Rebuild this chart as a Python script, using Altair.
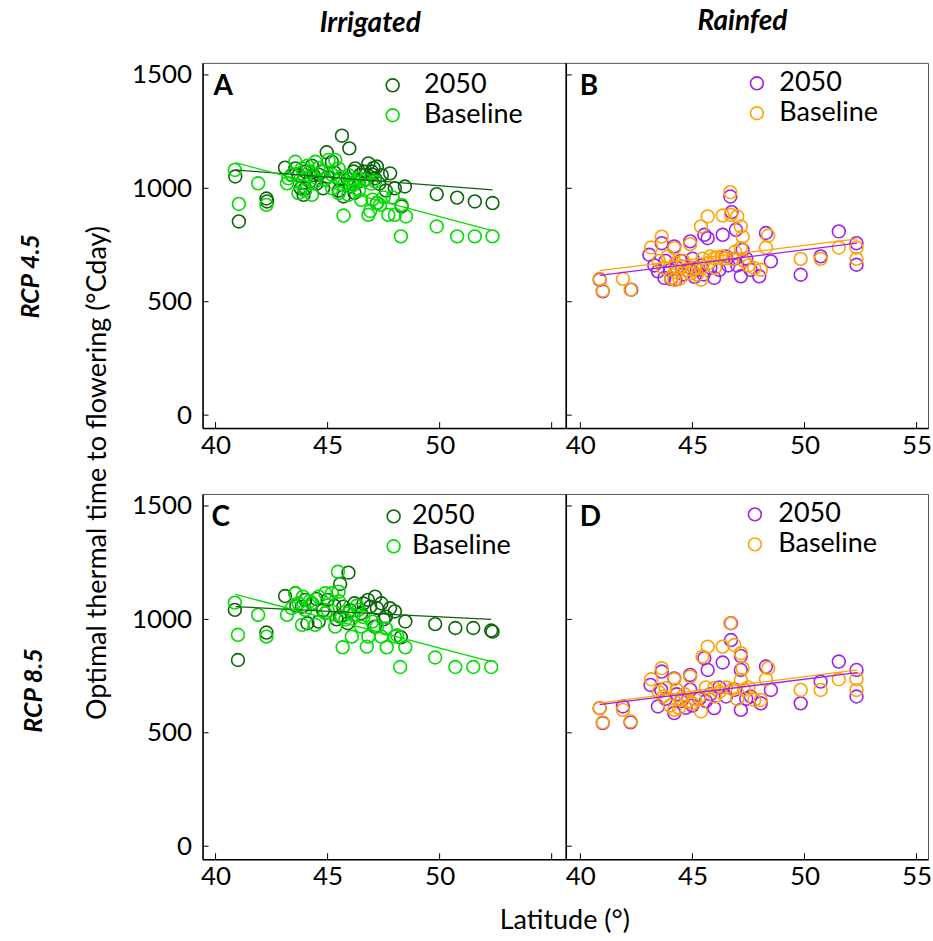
import altair as alt
import pandas as pd

# ---------------- data ----------------
SERIES = ["2050", "Baseline"]

# Panel A : RCP 4.5, irrigated
A_2050_lat = [40.88, 41.04, 42.30, 42.27, 43.10, 43.40, 43.56, 43.70, 43.93, 44.00, 44.00, 44.37, 44.74,
              44.96, 45.19, 45.50, 45.64, 45.71, 45.97, 46.16, 46.23, 46.40, 46.60, 46.82, 46.97, 47.12,
              47.20, 47.20, 47.42, 47.79, 48.00, 48.30, 48.45, 49.87, 50.78, 51.57, 52.36, 44.50, 45.00,
              46.00, 47.00, 44.20, 43.80, 44.30, 44.60, 45.30, 45.90, 46.45, 46.70, 47.05, 47.30, 47.60,
              44.80, 45.50, 46.20]
A_2050_val = [1052, 854, 942, 955, 1091, 1058, 1088, 1058, 971, 1074, 1000, 1058, 1074,
              1159, 1117, 1040, 1232, 964, 1176, 1074, 1088, 1030, 1074, 1110, 1074, 1044,
              1096, 935, 1058, 1066, 1000, 920, 1008, 974, 959, 942, 935, 1020, 1050,
              1010, 1060, 1030, 1000, 1100, 1060, 1070, 1040, 1060, 1040, 1090, 1020, 990,
              1000, 990, 980]
A_base_lat = [40.86, 41.04, 41.90, 42.27, 43.19, 43.25, 43.56, 43.70, 43.86, 44.00, 44.20, 44.30, 44.45,
              44.45, 44.82, 45.04, 45.34, 45.49, 45.50, 45.71, 45.71, 45.93, 45.93, 46.08, 46.16, 46.23,
              46.38, 46.50, 46.67, 46.82, 47.12, 47.20, 47.34, 47.71, 48.00, 48.30, 48.27, 48.50, 49.87,
              50.78, 51.57, 52.36, 44.00, 45.20, 46.90, 43.40, 43.90, 44.10, 44.60, 44.90, 45.20, 45.60,
              46.00, 46.40, 46.95, 47.50, 47.00, 47.90]
A_base_val = [1081, 931, 1022, 927, 1022, 1044, 1117, 979, 1088, 1044, 1074, 971, 1117,
              1030, 1074, 1125, 1125, 1088, 979, 880, 1015, 1058, 971, 1022, 1015, 1030,
              1044, 949, 1036, 883, 1030, 935, 927, 883, 883, 927, 788, 876, 832,
              788, 788, 788, 990, 1060, 900, 1060, 1010, 1100, 1090, 1040, 1000, 1050,
              1040, 990, 1020, 960, 950, 960]
A_fit_lat = [40.89, 52.36]
A_fit_2050 = [1081, 993]
A_fit_base = [1113, 813]

# Panel B : RCP 4.5, rainfed
B_2050_lat = [40.86, 41.00, 42.27, 43.08, 43.63, 44.19, 43.46, 43.75, 44.24, 44.90, 45.53, 45.68, 46.35,
              46.69, 46.75, 46.94, 47.24, 45.97, 47.16, 47.98, 48.50, 48.28, 49.83, 50.72, 51.53, 52.32,
              52.32, 44.50, 44.90, 45.50, 46.60, 46.90, 44.00, 45.20, 47.60, 43.30, 43.80, 44.30, 44.60,
              45.00, 45.40, 45.80, 46.20, 46.50, 47.00, 47.40, 44.05, 45.10]
B_2050_val = [597, 546, 553, 707, 758, 744, 634, 605, 597, 766, 795, 780, 795,
              964, 895, 817, 729, 605, 612, 612, 678, 803, 619, 700, 810, 758,
              663, 680, 650, 620, 660, 690, 640, 640, 640, 660, 680, 650, 620,
              690, 660, 650, 640, 700, 660, 690, 600, 610]
B_base_lat = [40.86, 41.00, 41.90, 42.24, 43.16, 43.63, 43.90, 44.19, 44.05, 44.42, 44.90, 45.38, 45.68,
              46.35, 46.69, 46.72, 47.00, 47.16, 47.24, 47.16, 45.38, 45.97, 46.10, 46.79, 47.76, 48.05,
              48.28, 48.38, 49.83, 50.72, 51.53, 52.32, 52.32, 44.70, 44.90, 45.10, 44.19, 45.38, 43.50,
              44.50, 45.70, 46.30, 47.50, 43.70, 44.25, 44.60, 45.00, 45.45, 45.80, 46.45, 46.90, 47.30,
              44.30, 45.20, 46.00]
B_base_val = [601, 549, 601, 553, 739, 787, 700, 736, 605, 601, 754, 832, 876,
              880, 983, 883, 876, 832, 787, 736, 648, 692, 695, 689, 648, 641,
              739, 792, 689, 689, 739, 739, 689, 640, 625, 650, 597, 597, 680,
              655, 670, 700, 660, 650, 670, 680, 640, 690, 700, 690, 720, 680,
              630, 620, 650]
B_fit_lat = [40.86, 52.35]
B_fit_2050 = [616, 758]
B_fit_base = [637, 777]

# Panel C : RCP 8.5, irrigated
C_2050_lat = [40.86, 41.00, 42.27, 45.93, 45.56, 43.10, 43.56, 47.12, 47.79, 48.00, 48.47, 49.80, 50.70,
              51.50, 52.30, 48.27, 46.80, 46.90, 47.40, 46.20, 45.56, 44.00, 43.86, 44.30, 45.00, 45.70,
              47.10, 45.90, 44.10, 46.50, 47.60, 52.36, 44.50, 44.80, 45.30, 46.00, 46.60, 47.20, 47.50,
              44.60, 45.40, 43.60]
C_2050_val = [1042, 821, 942, 1206, 1156, 1103, 1115, 1100, 1049, 1035, 991, 979, 962,
              962, 951, 921, 1086, 1056, 1071, 1071, 1012, 1086, 1056, 1071, 1086, 1056,
              968, 983, 983, 1027, 1012, 946, 1090, 1040, 1060, 1040, 1070, 1050, 1000,
              990, 1000, 1060]
C_base_lat = [40.86, 41.00, 41.90, 42.27, 45.46, 45.67, 46.75, 47.64, 48.47, 48.24, 49.80, 50.70, 51.50,
              52.30, 43.19, 43.56, 43.70, 44.00, 43.86, 44.45, 44.30, 44.89, 45.19, 45.49, 44.89, 45.34,
              45.64, 45.93, 46.16, 46.38, 46.08, 46.82, 47.20, 47.40, 48.00, 46.50, 43.40, 43.90, 44.20,
              44.60, 45.00, 45.50, 45.80, 46.30, 46.60, 47.00, 47.60, 48.10]
C_base_val = [1074, 932, 1020, 924, 1210, 877, 880, 877, 877, 790, 832, 790, 790,
              790, 1020, 1115, 1071, 1042, 976, 976, 1071, 1115, 1115, 1122, 1027, 968,
              1012, 1027, 1020, 1042, 924, 924, 968, 924, 924, 968, 1050, 1100, 1080,
              1100, 1040, 1080, 1000, 1060, 1010, 990, 960, 930]
C_fit_lat = [40.89, 52.30]
C_fit_2050 = [1056, 1000]
C_fit_base = [1110, 814]

# Panel D : RCP 8.5, rainfed
D_2050_lat = [40.86, 41.00, 41.90, 42.24, 43.13, 43.63, 44.19, 43.46, 44.19, 44.90, 45.53, 45.68, 46.35,
              46.72, 46.72, 47.16, 47.16, 47.16, 45.97, 48.05, 48.50, 48.28, 49.83, 50.72, 51.53, 52.32,
              52.32, 44.50, 45.00, 45.60, 46.50, 43.80, 44.70, 47.60, 44.30, 44.90, 45.30, 45.80, 46.20,
              46.90, 47.40, 43.60]
D_2050_val = [609, 543, 616, 546, 711, 770, 740, 616, 587, 755, 829, 777, 810,
              909, 983, 839, 777, 601, 609, 630, 689, 792, 630, 726, 814, 777,
              660, 640, 620, 640, 660, 650, 610, 660, 670, 690, 650, 670, 700,
              690, 650, 690]
D_base_lat = [40.86, 41.00, 41.90, 42.24, 43.16, 43.63, 43.80, 44.19, 44.19, 44.90, 45.68, 45.45, 46.35,
              46.69, 46.87, 47.16, 47.24, 47.16, 48.28, 48.38, 49.83, 50.72, 51.53, 52.32, 52.32, 45.97,
              46.79, 47.76, 48.05, 45.38, 44.50, 44.80, 45.10, 45.30, 43.50, 44.00, 46.20, 47.50, 47.00,
              43.70, 44.30, 44.65, 45.00, 45.60, 46.00, 46.50, 47.30, 44.40]
D_base_val = [609, 546, 601, 550, 736, 785, 697, 736, 601, 748, 880, 836, 880,
              983, 887, 851, 785, 733, 736, 785, 689, 689, 736, 736, 689, 697,
              692, 645, 645, 594, 650, 640, 650, 660, 680, 620, 680, 700, 650,
              660, 690, 670, 630, 700, 660, 700, 690, 610]
D_fit_lat = [40.86, 52.35]
D_fit_2050 = [624, 765]
D_fit_base = [631, 777]

Y_TICKS = [0, 500, 1000, 1500]
X_TICKS = [40, 45, 50, 55]

GREENS = ["#0c650c", "#00dd00"]
RAINFED = ["#a020f0", "#ffa200"]

FONT = "Lato"
H = 366
Y_DOMAIN = [-57, 1553]


def text_layer(txt, x, y, size, weight="normal", style="normal", angle=0, align="center"):
    return alt.Chart(pd.DataFrame({"t": [txt]})).mark_text(
        font=FONT, fontSize=size, fontWeight=weight, fontStyle=style, angle=angle,
        align=align, baseline="middle", color="black"
    ).encode(x=alt.value(x), y=alt.value(y), text="t:N")


def panel(lat1, val1, lat2, val2, fit_lat, fit1, fit2, colors, letter, letter_x,
          x_domain, width, y_labels, x_label_values, leg_x, leg_y, leg_off, extras):
    pts = pd.DataFrame({
        "lat": list(lat1) + list(lat2),
        "val": list(val1) + list(val2),
        "series": [SERIES[0]] * len(lat1) + [SERIES[1]] * len(lat2),
    })
    xs = alt.Scale(domain=x_domain, nice=False, zero=False)
    ys = alt.Scale(domain=Y_DOMAIN, nice=False, zero=False)
    cs = alt.Scale(domain=SERIES, range=colors)

    x_axis = alt.Axis(title=None, values=x_label_values, ticks=False, grid=False, format="d",
                      labelFont=FONT, labelFontSize=26, labelColor="black", labelPadding=4,
                      labelFlush=False, domainColor="black", domainWidth=1.5)
    if y_labels:
        y_axis = alt.Axis(title=None, values=Y_TICKS, ticks=False, grid=False, format="d",
                          labelFont=FONT, labelFontSize=26, labelColor="black", labelPadding=11,
                          domainColor="black", domainWidth=1.5)
    else:
        y_axis = alt.Axis(title=None, values=Y_TICKS, ticks=False, grid=False, labels=False,
                          domainColor="black", domainWidth=1.5)

    points = alt.Chart(pts).mark_point(shape="circle", filled=False, size=165, strokeWidth=1.6,
                                       opacity=1).encode(
        x=alt.X("lat:Q", scale=xs, axis=x_axis),
        y=alt.Y("val:Q", scale=ys, axis=y_axis),
        color=alt.Color("series:N", scale=cs, sort=SERIES, legend=alt.Legend(
            title=None, orient="none", legendX=leg_x, legendY=leg_y, padding=0,
            symbolType="circle", symbolSize=165, symbolStrokeWidth=1.6, symbolFillColor="transparent",
            symbolOpacity=1,
            labelFont=FONT, labelFontSize=27, labelColor="black", labelOffset=leg_off, rowPadding=2)),
    )
    layers = [points]
    for fit, col in ((fit1, colors[0]), (fit2, colors[1])):
        fd = pd.DataFrame({"lat": fit_lat, "val": fit})
        layers.append(alt.Chart(fd).mark_line(strokeWidth=1.3, color=col).encode(
            x=alt.X("lat:Q", scale=xs, axis=x_axis), y=alt.Y("val:Q", scale=ys, axis=y_axis)))
    layers.append(alt.Chart(pd.DataFrame({"lat": X_TICKS})).mark_rule(color="black", strokeWidth=1).encode(
        x=alt.X("lat:Q", scale=xs, axis=x_axis), y=alt.value(H), y2=alt.value(H - 6)))
    layers.append(alt.Chart(pd.DataFrame({"val": Y_TICKS})).mark_rule(color="black", strokeWidth=1).encode(
        y=alt.Y("val:Q", scale=ys, axis=y_axis), x=alt.value(0), x2=alt.value(6)))
    layers.append(text_layer(letter, letter_x, 24, 28, weight="bold", align="left"))
    layers.extend(extras)
    return alt.layer(*layers).properties(width=width, height=H)


anchor = alt.Chart(pd.DataFrame({"a": [0]})).mark_square(size=4, opacity=0).encode(
    x=alt.value(-201), y=alt.value(-60))

pA = panel(A_2050_lat, A_2050_val, A_base_lat, A_base_val, A_fit_lat, A_fit_2050, A_fit_base, GREENS,
           "A", 11, [39.42, 55.63], 364, True, [40, 45, 50], 177, 9, 18,
           [anchor,
            text_layer("Irrigated", 168, -39, 28, weight="bold", style="italic"),
            text_layer("RCP 4.5", -172, 214, 25, weight="bold", style="italic", angle=270)])
pB = panel(B_2050_lat, B_2050_val, B_base_lat, B_base_val, B_fit_lat, B_fit_2050, B_fit_base, RAINFED,
           "B", 14, [39.35, 55.51], 363, False, [40, 45, 50, 55], 178, 7, 9,
           [text_layer("Rainfed", 177, -41, 28, weight="bold", style="italic")])
pC = panel(C_2050_lat, C_2050_val, C_base_lat, C_base_val, C_fit_lat, C_fit_2050, C_fit_base, GREENS,
           "C", 9, [39.42, 55.63], 364, True, [40, 45, 50], 178, 9, 5,
           [text_layer("RCP 8.5", -169, 197, 25, weight="bold", style="italic", angle=270),
            text_layer("Optimal thermal time to flowering (°Cday)", -105, -21, 27, angle=270),
            text_layer("Latitude (°)", 363, 428, 27)])
pD = panel(D_2050_lat, D_2050_val, D_base_lat, D_base_val, D_fit_lat, D_fit_2050, D_fit_base, RAINFED,
           "D", 14, [39.35, 55.51], 363, False, [40, 45, 50, 55], 176, 7, 10, [])

chart = alt.concat(pA, pB, pC, pD, columns=2, spacing=alt.RowColnumber(row=66, column=0),
                   bounds="flush").resolve_scale(color="independent").properties(
    padding=0, background="white"
).configure_view(stroke="#555555", strokeWidth=1).configure_axis(grid=False)

chart.save("out.html", embed_options={"renderer": "svg", "actions": False})
